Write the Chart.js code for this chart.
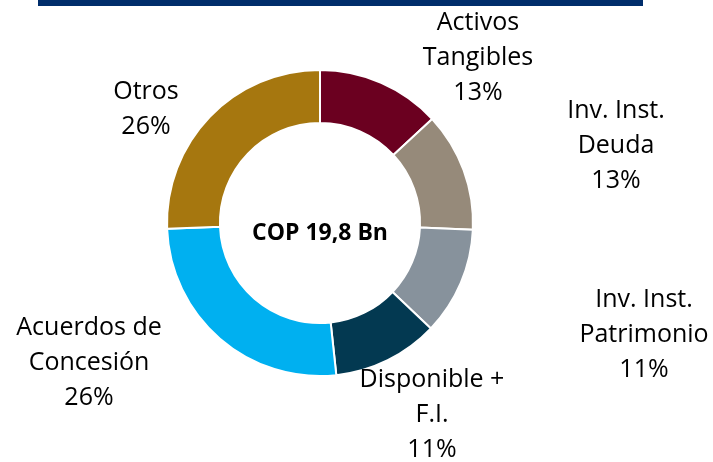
<!DOCTYPE html>
<html lang="es">
<head>
    <meta charset="UTF-8">
    <title>Composición de activos</title>
    <script src="https://cdn.jsdelivr.net/npm/chart.js"></script>
    <style>
        body {
            margin: 0;
            background: #fff;
        }

        .wrap {
            position: relative;
            width: 713px;
            height: 462px;
        }

        .top-bar {
            position: absolute;
            left: 38px;
            top: 0;
            width: 605px;
            height: 6px;
            background: #002d6b;
        }
    </style>
</head>
<body>
    <div class="wrap">
        <canvas id="donutChart" width="713" height="462"></canvas>
        <div class="top-bar"></div>
    </div>

    <script>
        // Slice names (each entry is one label line list)
        const categories = [
            ['Activos', 'Tangibles'],
            ['Inv. Inst.', 'Deuda'],
            ['Inv. Inst.', 'Patrimonio'],
            ['Disponible +', 'F.I.'],
            ['Acuerdos de', 'Concesión'],
            ['Otros']
        ];
        // Share of total (%)
        const shares = [13.1, 12.6, 11.4, 11.2, 26.1, 25.6];
        const sliceColors = ['#6b0020', '#968a7a', '#87929c', '#033951', '#00b0f0', '#a6770f'];
        const centerText = 'COP 19,8 Bn';

        // Where each label block sits (first baseline), relative to donut centre
        const labelOffsets = [
            [158, -193],
            [296, -105],
            [324, 84],
            [112, 164],
            [-231, 112],
            [-174, -124]
        ];

        const total = shares.reduce((a, b) => a + b, 0);

        // Draw outside labels and the centre caption
        const labelPlugin = {
            id: 'donutLabels',
            afterDraw(chart) {
                const ctx = chart.ctx;
                const arcs = chart.getDatasetMeta(0).data;
                const cx = arcs[0].x;
                const cy = arcs[0].y;

                ctx.save();
                ctx.fillStyle = '#000';
                ctx.textAlign = 'center';
                ctx.textBaseline = 'alphabetic';
                ctx.font = '25px "Open Sans"';
                categories.forEach((lines, i) => {
                    const pct = Math.round(shares[i] / total * 100) + '%';
                    const all = lines.concat([pct]);
                    all.forEach((txt, j) => {
                        ctx.fillText(txt, cx + labelOffsets[i][0], cy + labelOffsets[i][1] + j * 35);
                    });
                });

                ctx.font = 'bold 23px "Open Sans"';
                ctx.fillText(centerText, cx, cy + 17);
                ctx.restore();
            }
        };

        new Chart(document.getElementById('donutChart'), {
            type: 'doughnut',
            data: {
                labels: categories.map(l => l.join(' ')),
                datasets: [{
                    data: shares,
                    backgroundColor: sliceColors,
                    borderColor: '#fff',
                    borderWidth: 2
                }]
            },
            options: {
                responsive: false,
                animation: false,
                cutout: '65.4%',
                layout: {
                    padding: { left: 166, right: 239, top: 69, bottom: 85 }
                },
                plugins: {
                    legend: { display: false },
                    tooltip: { enabled: false }
                }
            },
            plugins: [labelPlugin]
        });
    </script>
</body>
</html>
